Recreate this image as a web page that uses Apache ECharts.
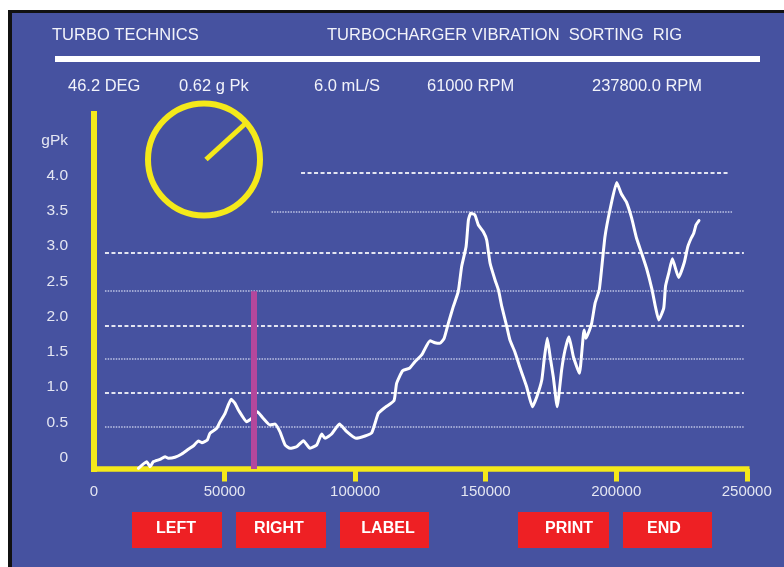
<!DOCTYPE html>
<html>
<head>
<meta charset="utf-8">
<script src="https://cdn.jsdelivr.net/npm/echarts@6/dist/echarts.min.js"></script>
<style>
  html, body { margin: 0; padding: 0; background: #ffffff; }
  #wrap { position: relative; width: 784px; height: 567px; overflow: hidden; }
  #frame { position: absolute; left: 8px; top: 10px; width: 776px; height: 557px; background: #111111; }
  #panel { position: absolute; left: 12px; top: 13px; width: 772px; height: 554px; background: #4652A0; }
  #chart { position: absolute; left: 0; top: 0; width: 784px; height: 567px; }
</style>
</head>
<body>
<div id="wrap">
  <div id="frame"></div>
  <div id="panel"></div>
  <div id="chart"></div>
</div>
<script>
// ---------- data ----------
const rpm = [17.0,20.2,21.5,22.7,25.3,27.2,28.5,31.0,33.6,36.1,38.0,40.0,41.3,43.4,44.4,47.0,48.3,50.2,52.5,54.0,
  55.3,58.5,60.4,62.5,64.8,67.4,69.3,71.2,73.2,75.1,77.6,80.2,82.7,85.3,87.2,88.5,91.0,94.0,96.8,100.3,
  103.8,106.4,108.9,111.5,114.9,115.9,118.2,120.8,122.9,125.5,128.7,130.6,132.5,134.1,135.7,137.6,139.5,140.8,142.5,143.4,
  144.3,145.9,147.2,149.1,150.4,151.7,153.6,154.9,156.2,158.1,159.3,161.2,163.2,165.7,167.9,169.6,171.5,172.4,173.6,174.7,
  175.9,177.4,179.1,180.4,181.9,183.6,185.9,187.7,188.4,189.3,190.6,191.9,193.5,194.5,195.7,197.6,200.2,202.0,203.9,205.9,
  207.8,209.8,211.7,213.7,215.0,216.3,218.2,218.9,220.2,221.5,223.9,226.1,227.4,228.7,229.7,230.6,231.7]; // x1000 RPM
const gPk = [-0.153,-0.060,-0.131,-0.060,-0.026,0.011,-0.011,0.003,0.050,0.116,0.163,0.234,0.210,0.248,0.343,0.414,0.508,0.627,0.826,0.769,
  0.674,0.508,0.556,0.650,0.556,0.461,0.475,0.366,0.177,0.131,0.153,0.238,0.131,0.177,0.333,0.272,0.333,0.475,0.366,0.272,
  0.305,0.352,0.627,0.712,0.806,1.053,1.232,1.266,1.359,1.455,1.657,1.629,1.621,1.691,1.904,2.140,2.353,2.708,2.991,3.370,
  3.465,3.441,3.299,3.204,3.086,2.756,2.519,2.377,2.140,1.856,1.667,1.497,1.270,1.005,0.721,0.863,1.100,1.384,1.691,1.430,
  1.147,0.721,1.242,1.525,1.714,1.430,1.195,1.809,1.691,1.762,1.904,2.188,2.377,2.708,3.133,3.512,3.902,3.739,3.626,3.399,
  3.111,2.892,2.675,2.385,2.143,1.951,2.119,2.434,2.627,2.820,2.554,2.771,2.989,3.111,3.183,3.303,3.362];

const xTickLabels = [0, 50000, 100000, 150000, 200000, 250000];
const xTickMarks = [50000, 100000, 150000, 200000, 250000];
const yTickLabels = [0, 0.5, 1.0, 1.5, 2.0, 2.5, 3.0, 3.5, 4.0, 4.5];
const yUnitLabel = 'gPk';

// reference lines (levels) with their extents in RPM
const gridLevels = [0.43, 0.92, 1.40, 1.87, 2.36, 2.90, 3.48, 4.04];
const gridStarts = [4200, 4200, 4200, 4200, 4200, 4200, 68000, 79300];
const gridEnds   = [248900, 248900, 248900, 248900, 248900, 248900, 244700, 243000];
const gridDashed = [false, true, false, true, false, true, false, true];

const cursorRPM = 61000;
const cursorTop = 2.36;

const titleLeft = 'TURBO TECHNICS';
const titleRight = 'TURBOCHARGER VIBRATION  SORTING  RIG';
const infoTexts = ['46.2 DEG', '0.62 g Pk', '6.0 mL/S', '61000 RPM', '237800.0 RPM'];
const buttonNames = ['LEFT', 'RIGHT', 'LABEL', 'PRINT', 'END'];
const needleAngle = 41; // degrees, as drawn

// ---------- layout / styling ----------
const YELLOW = '#F4E91A';
const FONT = '"Liberation Sans", Arial, sans-serif';
const infoX = [68, 179, 314, 427, 592];
const btnBoxes = [[132, 512, 90, 36], [236, 512, 90, 36], [340, 512, 89, 36], [518, 512, 91, 36], [623, 512, 89, 36]];
const btnTextX = [176, 279, 388, 569, 664];

const yMin = -0.163, yMax = 4.874;

const chart = echarts.init(document.getElementById('chart'), null, { renderer: 'canvas' });

const curve = rpm.map((r, i) => [r * 1000, gPk[i]]);

const gridMark = gridLevels.map((lv, i) => [
  { coord: [gridStarts[i], lv],
    lineStyle: gridDashed[i]
      ? { color: 'rgba(255,255,255,0.85)', width: 2, type: [4, 2.5] }
      : { color: 'rgba(235,238,255,0.55)', width: 1.8, type: [1.5, 1.2] } },
  { coord: [gridEnds[i], lv] }
]);

const gc = { cx: 204, cy: 159.5, r: 56 };
const rad = needleAngle * Math.PI / 180;

const graphics = [
  { type: 'text', x: 52, y: 35, style: { text: titleLeft, fill: '#F2F3FA', font: '16.5px ' + FONT, textVerticalAlign: 'middle', verticalAlign: 'middle' } },
  { type: 'text', x: 327, y: 35, style: { text: titleRight, fill: '#F2F3FA', font: '16.5px ' + FONT, textVerticalAlign: 'middle', verticalAlign: 'middle' } },
  { type: 'rect', shape: { x: 55, y: 56, width: 705, height: 6 }, style: { fill: '#FFFFFF' } },
  { type: 'circle', shape: { cx: gc.cx, cy: gc.cy, r: gc.r }, style: { fill: 'none', stroke: YELLOW, lineWidth: 6 } },
  { type: 'line', shape: { x1: gc.cx + 2, y1: gc.cy, x2: gc.cx + gc.r * Math.cos(rad), y2: gc.cy - gc.r * Math.sin(rad) },
    style: { stroke: YELLOW, lineWidth: 5 } }
];
infoTexts.forEach((t, i) => graphics.push({
  type: 'text', x: infoX[i], y: 86,
  style: { text: t, fill: '#F2F3FA', font: '16.5px ' + FONT, textVerticalAlign: 'middle', verticalAlign: 'middle' }
}));
buttonNames.forEach((t, i) => {
  const b = btnBoxes[i];
  graphics.push({ type: 'rect', shape: { x: b[0], y: b[1], width: b[2], height: b[3] }, style: { fill: '#EE2024' } });
  graphics.push({ type: 'text', x: btnTextX[i], y: 529,
    style: { text: t, fill: '#FFFFFF', font: 'bold 16px ' + FONT, textAlign: 'center', align: 'center', textVerticalAlign: 'middle', verticalAlign: 'middle' } });
});

chart.setOption({
  backgroundColor: 'transparent',
  animation: false,
  grid: { left: 94, right: 37.25, top: 114, bottom: 98, containLabel: false },
  xAxis: {
    type: 'value', min: 0, max: 250000,
    splitLine: { show: false },
    axisLine: { show: true, onZero: false, lineStyle: { color: YELLOW, width: 5.5, cap: 'square' } },
    axisTick: { show: true, inside: false, customValues: xTickMarks, length: 12.5, lineStyle: { color: YELLOW, width: 5 } },
    axisLabel: { customValues: xTickLabels, formatter: v => String(v), color: '#E4E6F2', fontSize: 15, fontFamily: FONT, margin: 15.5 }
  },
  yAxis: {
    type: 'value', min: yMin, max: yMax,
    splitLine: { show: false },
    axisLine: { show: true, onZero: false, lineStyle: { color: YELLOW, width: 6, cap: 'square' } },
    axisTick: { show: false },
    axisLabel: {
      customValues: yTickLabels, color: '#E4E6F2', fontSize: 15.5, fontFamily: FONT, margin: 26,
      formatter: v => (Math.abs(v - 4.5) < 1e-9 ? yUnitLabel : (v === 0 ? '0' : v.toFixed(1)))
    }
  },
  graphic: graphics,
  series: [
    {
      type: 'line', name: 'grid', data: [], z: 1, silent: true,
      markLine: { silent: true, symbol: 'none', label: { show: false }, animation: false, data: gridMark }
    },
    {
      type: 'line', name: 'vibration', data: curve, z: 3, showSymbol: false, smooth: 0.15,
      lineStyle: { color: '#FFFFFF', width: 3, join: 'round', cap: 'round' }
    },
    {
      type: 'line', name: 'cursor', data: [], z: 4, silent: true,
      markLine: { silent: true, symbol: 'none', label: { show: false }, animation: false,
        data: [[{ coord: [cursorRPM, yMin], lineStyle: { color: '#B4479C', width: 6, type: 'solid' } }, { coord: [cursorRPM, cursorTop] }]] }
    }
  ]
});
</script>
</body>
</html>
